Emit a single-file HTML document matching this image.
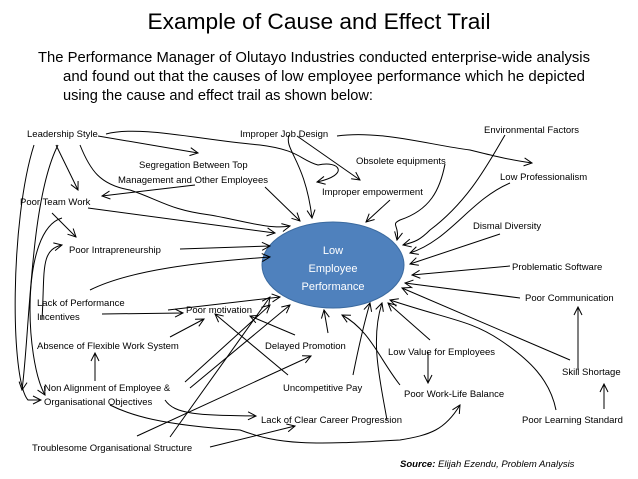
<!DOCTYPE html>
<html><head><meta charset="utf-8"><style>
html,body{margin:0;padding:0;background:#fff;}
svg{display:block;font-family:"Liberation Sans",sans-serif;}
</style></head><body>
<svg width="638" height="479" viewBox="0 0 638 479" xmlns="http://www.w3.org/2000/svg">
<defs>
<marker id="a" markerWidth="10" markerHeight="10" refX="9" refY="5" orient="auto" markerUnits="userSpaceOnUse">
<path d="M1,1 L9,5 L1,9" fill="none" stroke="#000" stroke-width="1"/></marker>
</defs>
<text x="319" y="29" font-size="22" text-anchor="middle" textLength="343" lengthAdjust="spacingAndGlyphs">Example of Cause and Effect Trail</text>
<text font-size="14.5">
<tspan x="38" y="62" textLength="552" lengthAdjust="spacingAndGlyphs">The Performance Manager of Olutayo Industries conducted enterprise-wide analysis</tspan>
<tspan x="63" y="81" textLength="522" lengthAdjust="spacingAndGlyphs">and found out that the causes of low employee performance which he depicted</tspan>
<tspan x="63" y="100" textLength="310" lengthAdjust="spacingAndGlyphs">using the cause and effect trail as shown below:</tspan>
</text>
<ellipse cx="333" cy="265" rx="71" ry="43" fill="#4f81bd" stroke="#3b6a9f"/>
<g fill="#fff" font-size="11" text-anchor="middle">
<text x="333" y="254">Low</text><text x="333" y="272">Employee</text><text x="333" y="290">Performance</text></g>
<g font-size="9.5" fill="#000">
<text x="27" y="137">Leadership Style</text>
<text x="240" y="137">Improper Job Design</text>
<text x="484" y="133">Environmental Factors</text>
<text x="139" y="168">Segregation Between Top</text>
<text x="118" y="183">Management and Other Employees</text>
<text x="356" y="164">Obsolete equipments</text>
<text x="322" y="195">Improper empowerment</text>
<text x="500" y="180">Low Professionalism</text>
<text x="20" y="205">Poor Team Work</text>
<text x="473" y="229">Dismal Diversity</text>
<text x="69" y="253">Poor Intrapreneurship</text>
<text x="512" y="270">Problematic Software</text>
<text x="37" y="306">Lack of Performance</text>
<text x="37" y="320">Incentives</text>
<text x="186" y="313">Poor motivation</text>
<text x="525" y="301">Poor Communication</text>
<text x="37" y="349">Absence of Flexible Work System</text>
<text x="265" y="349">Delayed Promotion</text>
<text x="388" y="355">Low Value for Employees</text>
<text x="562" y="375">Skill Shortage</text>
<text x="44" y="391">Non Alignment of Employee &amp;</text>
<text x="44" y="405">Organisational Objectives</text>
<text x="283" y="391">Uncompetitive Pay</text>
<text x="404" y="397">Poor Work-Life Balance</text>
<text x="261" y="423">Lack of Clear Career Progression</text>
<text x="522" y="423">Poor Learning Standard</text>
<text x="32" y="451">Troublesome Organisational Structure</text>
</g>
<text x="400" y="467" font-size="9.5" font-style="italic"><tspan font-weight="bold">Source:</tspan> Elijah Ezendu, Problem Analysis</text>
<g fill="none" stroke="#000" stroke-width="1" marker-end="url(#a)">
<path d="M98,136 L198,153"/>
<path d="M106,134 C140,125 200,140 260,145 C300,150 300,160 318,165 C340,160 350,175 317,182"/>
<path d="M56,145 L78,190"/>
<path d="M80,145 C90,170 100,185 130,190 C160,200 170,210 210,215 C240,220 270,230 290,226"/>
<path d="M195,185 L102,196"/>
<path d="M265,187 L300,221"/>
<path d="M289,135 C284,150 305,160 312,218"/>
<path d="M297,136 L360,180"/>
<path d="M88,208 L275,233"/>
<path d="M52,213 L76,237"/>
<path d="M180,249 L270,246"/>
<path d="M337,136 C380,130 430,145 470,150 C490,155 510,160 532,163"/>
<path d="M390,200 L366,222"/>
<path d="M445,164 C440,190 430,210 400,220 C390,225 400,225 397,240"/>
<path d="M505,135 C490,160 470,200 430,230 C420,240 415,242 403,245"/>
<path d="M510,183 C470,200 450,240 410,253"/>
<path d="M500,234 L410,264"/>
<path d="M510,266 L412,275"/>
<path d="M520,298 L405,283"/>
<path d="M570,360 L402,288"/>
<path d="M578,370 L578,307"/>
<path d="M604,409 L604,384"/>
<path d="M556,410 C550,380 530,360 500,340 C470,320 450,320 390,300"/>
<path d="M430,340 L388,303"/>
<path d="M428,352 L428,383"/>
<path d="M400,385 C380,360 370,330 342,315"/>
<path d="M387,420 C380,380 370,340 382,303"/>
<path d="M353,375 C360,340 365,320 370,303"/>
<path d="M328,333 L324,310"/>
<path d="M295,335 L250,316"/>
<path d="M288,375 L215,314"/>
<path d="M168,310 L280,297"/>
<path d="M102,314 L183,313"/>
<path d="M170,337 L204,319"/>
<path d="M95,381 L95,353"/>
<path d="M185,382 L270,305"/>
<path d="M190,388 L290,305"/>
<path d="M170,437 L270,297"/>
<path d="M137,436 L311,356"/>
<path d="M210,447 L295,426"/>
<path d="M165,400 C175,415 200,415 256,416"/>
<path d="M110,405 C130,415 160,425 240,430 C280,445 310,445 400,440 C430,435 445,430 460,405"/>
<path d="M90,290 C130,270 200,262 270,257"/>
<path d="M62,218 C20,230 25,360 45,395"/>
<path d="M34,145 C10,220 10,380 28,400 L41,400"/>
<path d="M58,145 C30,200 30,330 22,390"/>
<path d="M42,320 C45,270 40,250 62,245"/>
</g>
</svg>
</body></html>
